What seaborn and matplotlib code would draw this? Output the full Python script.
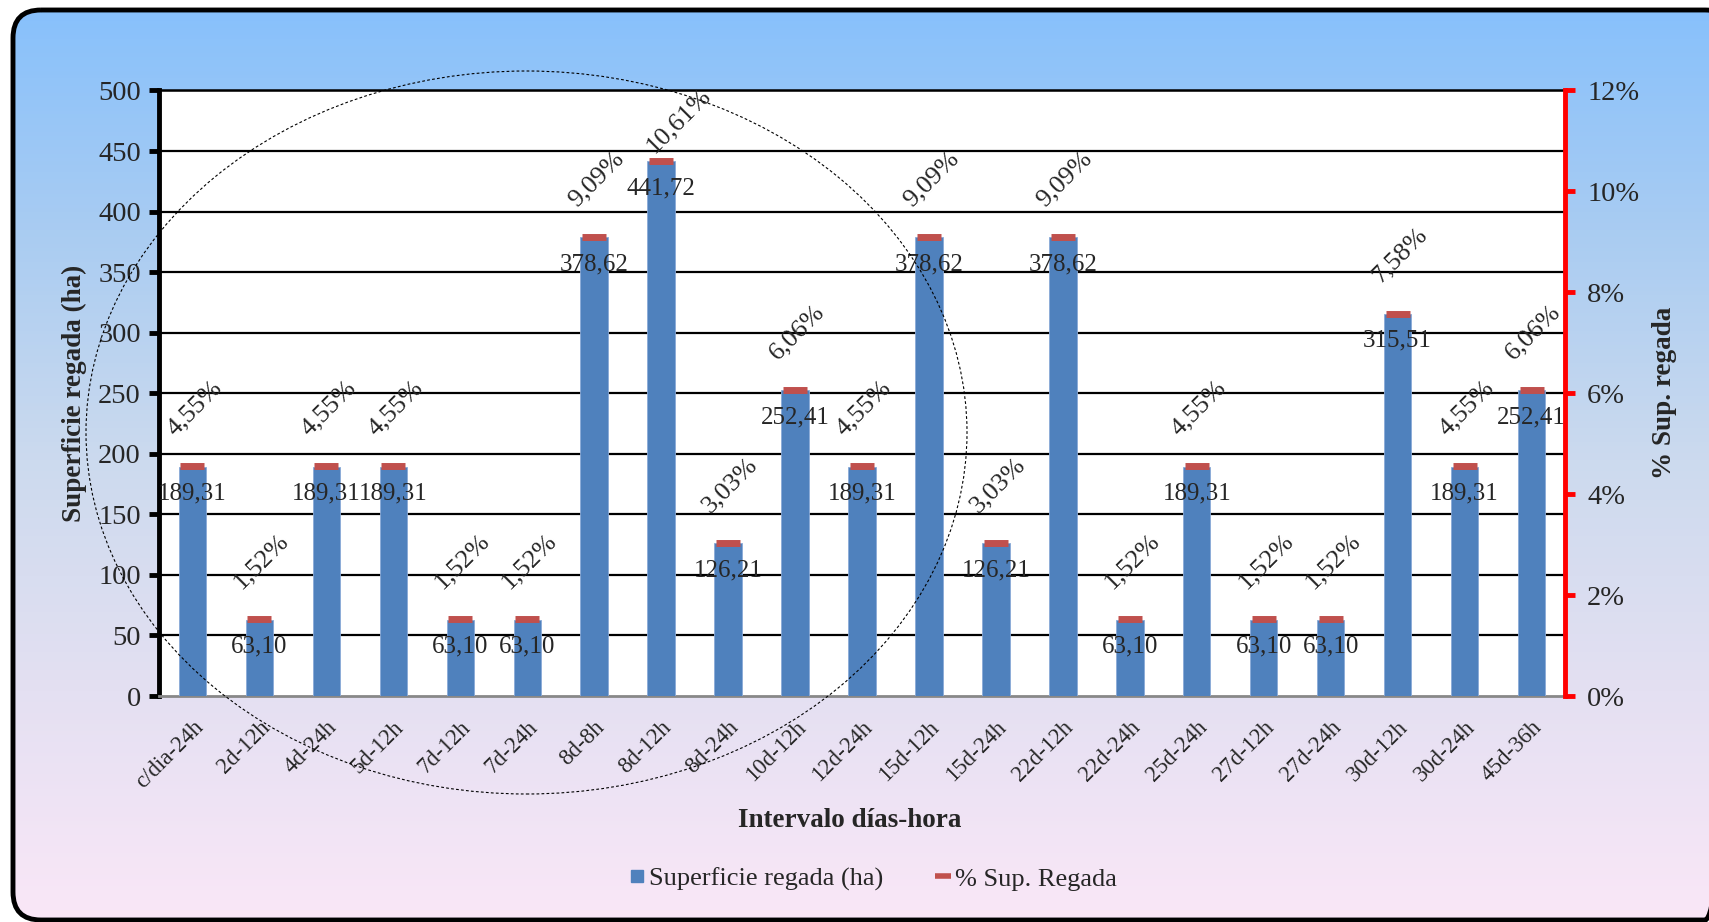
import numpy as np
import pandas as pd
import matplotlib
matplotlib.use('Agg')
import matplotlib.pyplot as plt
import seaborn as sns
from matplotlib.patches import Ellipse, FancyBboxPatch
from matplotlib.lines import Line2D
from matplotlib.colors import LinearSegmentedColormap

# ── DATOS ──
intervalos = ['c/dia-24h', '2d-12h', '4d-24h', '5d-12h', '7d-12h', '7d-24h', '8d-8h',
              '8d-12h', '8d-24h', '10d-12h', '12d-24h', '15d-12h', '15d-24h', '22d-12h',
              '22d-24h', '25d-24h', '27d-12h', '27d-24h', '30d-12h', '30d-24h', '45d-36h']
superficie = [189.31, 63.10, 189.31, 189.31, 63.10, 63.10, 378.62, 441.72, 126.21, 252.41,
              189.31, 378.62, 126.21, 378.62, 63.10, 189.31, 63.10, 63.10, 315.51, 189.31, 252.41]
porcentaje = [4.55, 1.52, 4.55, 4.55, 1.52, 1.52, 9.09, 10.61, 3.03, 6.06, 4.55, 9.09, 3.03,
              9.09, 1.52, 4.55, 1.52, 1.52, 7.58, 4.55, 6.06]

df = pd.DataFrame({'Intervalo': intervalos, 'Superficie': superficie,
                   'Porcentaje': np.array(porcentaje) / 100})

sns.set_style('white')
plt.rcParams['font.family'] = ['Liberation Serif', 'DejaVu Serif']

AZUL = '#4F81BD'
ROJO = '#C0504D'

W, H = 1709, 922
fig = plt.figure(figsize=(W / 100, H / 100), dpi=100)

# ── FONDO DEGRADADO CON MARCO REDONDEADO ──
bg = fig.add_axes([0, 0, 1, 1], zorder=-5)
bg.set_xlim(0, W)
bg.set_ylim(H, 0)
bg.axis('off')
cmap = LinearSegmentedColormap.from_list('fondo', ['#86C0FC', '#A9CCF2', '#CCDAEE', '#E4E0F2', '#FAE7F7'])
grad = np.linspace(0, 1, 256).reshape(-1, 1)
im = bg.imshow(grad, cmap=cmap, aspect='auto', extent=[0, W, H, 0], zorder=0)
marco = FancyBboxPatch((13, 10), 1720, 910, boxstyle='round,pad=0,rounding_size=28',
                       facecolor='none', edgecolor='black', linewidth=3.5, zorder=2)
bg.add_patch(marco)
im.set_clip_path(marco)

# ── EJES PRINCIPALES ──
ax = fig.add_axes([159 / W, 1 - 696 / H, (1565 - 159) / W, (696 - 90.5) / H])
ax.set_facecolor('white')
sns.barplot(data=df, x='Intervalo', y='Superficie', color=AZUL, width=0.41,
            saturation=1, ax=ax, zorder=3, edgecolor='#8AAAD8', linewidth=0.6)
ax.set_ylim(0, 500)
ax.set_yticks(np.arange(0, 501, 50))
ax.set_xlim(-0.5, len(intervalos) - 0.5)
for y in np.arange(50, 501, 50):
    ax.axhline(y, color='black', linewidth=1.6, zorder=1)

ax.tick_params(axis='y', labelsize=20.5, length=7, width=3.5, direction='out', color='black', pad=6)
ax.spines['left'].set_linewidth(3.5)
ax.spines['left'].set_color('black')
ax.spines['top'].set_linewidth(1.8)
ax.spines['top'].set_color('black')
ax.spines['bottom'].set_color('#888888')
ax.spines['bottom'].set_linewidth(2)
ax.spines['right'].set_visible(False)

ax.set_xticks(range(len(intervalos)))
ax.set_xticklabels(intervalos, rotation=45, ha='right', rotation_mode='anchor', fontsize=16.5)
ax.tick_params(axis='x', which='major', length=0, pad=15)
ax.set_xticks(np.arange(-0.5, len(intervalos), 1), minor=True)
ax.tick_params(axis='x', which='minor', length=8, width=1.5, color='#888888', direction='out')

ax.set_xlabel('Intervalo días-hora', fontsize=19.5, fontweight='bold', labelpad=0)
ax.xaxis.set_label_coords((850 - 159) / (1565 - 159), -(808 - 696) / (696 - 90.5))
ax.set_ylabel('Superficie regada (ha)', fontsize=19.5, fontweight='bold')
ax.yaxis.set_label_coords(-(159 - 87) / (1565 - 159), 0.5)

# etiquetas de valor (dentro del extremo de la barra)
for i, v in enumerate(superficie):
    ax.annotate(f'{v:.2f}'.replace('.', ','), (i, v), xytext=(0, -27),
                textcoords='offset pixels', ha='center', va='center', fontsize=18, zorder=6)

# ── EJE SECUNDARIO (%) ──
ax2 = ax.twinx()
sns.lineplot(x=np.arange(len(intervalos)), y=df['Porcentaje'], ax=ax2, color=ROJO,
             linestyle='none', marker='_', markersize=17, markeredgewidth=5,
             markeredgecolor=ROJO, sort=False, zorder=5)
ax2.set_ylim(0, 0.12)
ax2.set_yticks(np.arange(0, 0.121, 0.02))
ax2.set_yticklabels([f'{int(round(t * 100))}%' for t in np.arange(0, 0.121, 0.02)])
ax2.tick_params(axis='y', labelsize=20.5, length=7, width=3.5, color='red', direction='out', pad=9)
for s in ['left', 'top', 'bottom']:
    ax2.spines[s].set_visible(False)
ax2.spines['right'].set_color('red')
ax2.spines['right'].set_linewidth(3.5)
ax2.set_ylabel('% Sup. regada', fontsize=19.5, fontweight='bold')
ax2.yaxis.set_label_coords(1 + (1652 - 1565) / (1565 - 159), 0.5)
ax2.set_xlim(-0.5, len(intervalos) - 0.5)

# etiquetas de porcentaje, giradas; si no caben arriba se acercan a la barra
alto_px = 696 - 90.5
for i, p in enumerate(porcentaje):
    hueco = (12 - p) / 12 * alto_px
    off = (2, 58) if hueco > 100 else (17, 40)
    ax2.annotate(f'{p:.2f}%'.replace('.', ','), (i, p / 100), xytext=off,
                 textcoords='offset pixels', ha='center', va='center', rotation=45,
                 rotation_mode='anchor', fontsize=19, zorder=6)

# ── LEYENDA ──
handles = [Line2D([], [], color=AZUL, marker='s', linestyle='none', markersize=9),
           Line2D([], [], color=ROJO, marker='_', linestyle='none', markersize=11.5, markeredgewidth=4)]
fig.legend(handles, ['Superficie regada (ha)', '% Sup. Regada'], loc='center',
           bbox_to_anchor=(873 / W, 1 - 879 / H), ncol=2, frameon=False, fontsize=19,
           handlelength=0.6, handletextpad=0.15, columnspacing=2.0)

# ── ELIPSE PUNTEADA ──
elipse = Ellipse((526.5 / W, 1 - 432.5 / H), 881 / W, 723 / H, transform=fig.transFigure,
                 fill=False, edgecolor='black', linewidth=0.8, linestyle=(0, (2.5, 2)), zorder=20)
fig.add_artist(elipse)

plt.savefig('out.png', dpi=100)
plt.close()
